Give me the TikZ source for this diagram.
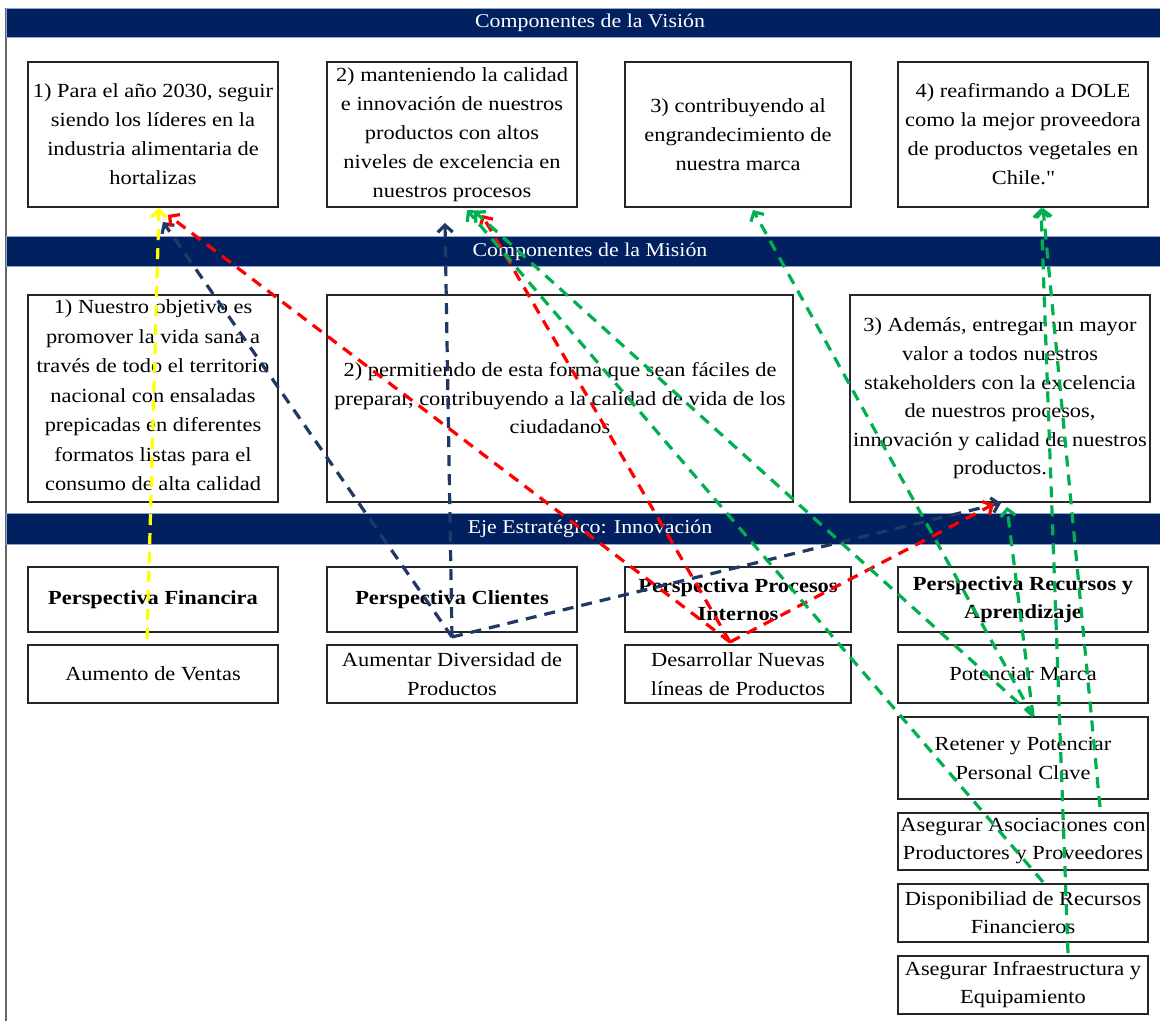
\documentclass[tikz,border=0pt]{standalone}
\usepackage{fontspec}
\setmainfont[FakeStretch=1.12]{Liberation Serif}
\usetikzlibrary{arrows.meta,calc}
\definecolor{navy}{HTML}{002060}
\definecolor{linknavy}{HTML}{1F3864}
\definecolor{linkred}{HTML}{FF0000}
\definecolor{linkgreen}{HTML}{00B050}
\definecolor{linkyellow}{HTML}{FFFF00}
\definecolor{barline}{HTML}{8FA7D0}
% straight double quote, set as a glyph so that no text mapping curls it
\newcommand{\straightquote}{\XeTeXglyph\XeTeXcharglyph"22\relax}

\begin{document}
\begin{tikzpicture}[x=1pt,y=-1pt,
  box/.style={draw=black!85, line width=2pt, fill=white, inner sep=0pt, rectangle},
  txt/.style={align=center, inner sep=0pt, font=\fontsize{20}{29}\selectfont},
  btxt/.style={align=center, inner sep=0pt, font=\fontsize{20}{28}\selectfont\bfseries},
  bar/.style={fill=navy, draw=barline, line width=1pt, inner sep=0pt, rectangle},
  bartxt/.style={text=white, inner sep=0pt, font=\fontsize{19.5}{24}\selectfont},
  link/.style={line width=3.2pt, dash pattern=on 11pt off 8pt,
    -{Straight Barb[length=7pt,width=15pt]}},
]
\useasboundingbox (0,0) rectangle (1160,1021);
\fill[white] (0,0) rectangle (1160,1021);

% frame line on the left
\draw[black!60, line width=1.5pt] (6,8) -- (6,1021);

% section bars
\node[bar, minimum width=1154pt, minimum height=29pt] (barV) at (583,22.5) {};
\node[bar, minimum width=1154pt, minimum height=30pt] (barM) at (583,251.5) {};
\node[bar, minimum width=1154pt, minimum height=31pt] (barE) at (583,528.5) {};
\node[bartxt] (barVt) at (590,22.5) {Componentes de la Visión};
\node[bartxt] (barMt) at (590,251.5) {Componentes de la Misión};
\node[bartxt] (barEt) at (590,528.5) {Eje Estratégico: Innovación};

% vision boxes
\node[box, minimum width=250pt, minimum height=145pt] (v1) at (153,134.5) {};
\node[box, minimum width=250pt, minimum height=145pt] (v2) at (452,134.5) {};
\node[box, minimum width=226pt, minimum height=145pt] (v3) at (738,134.5) {};
\node[box, minimum width=250pt, minimum height=145pt] (v4) at (1023,134.5) {};
\node[txt] (v1t) at (v1) {1) Para el año 2030, seguir\\siendo los líderes en la\\industria alimentaria de\\hortalizas};
\node[txt] (v2t) at (v2) {2) manteniendo la calidad\\e innovación de nuestros\\productos con altos\\niveles de excelencia en\\nuestros procesos};
\node[txt] (v3t) at (v3) {3) contribuyendo al\\engrandecimiento de\\nuestra marca};
\node[txt] (v4t) at (v4) {4) reafirmando a DOLE\\como la mejor proveedora\\de productos vegetales en\\Chile.\straightquote};

% mission boxes
\node[box, minimum width=250pt, minimum height=207pt] (m1) at (153,398.5) {};
\node[box, minimum width=466pt, minimum height=207pt] (m2) at (560,398.5) {};
\node[box, minimum width=300pt, minimum height=207pt] (m3) at (1000,398.5) {};
\node[txt, font=\fontsize{20}{29.5}\selectfont] (m1t) at ($(m1)+(0,-3)$) {1) Nuestro objetivo es\\promover la vida sana a\\través de todo el territorio\\nacional con ensaladas\\prepicadas en diferentes\\formatos listas para el\\consumo de alta calidad};
\node[txt, font=\fontsize{20}{28.5}\selectfont] (m2t) at (m2) {2) permitiendo de esta forma que sean fáciles de\\preparar, contribuyendo a la calidad de vida de los\\ciudadanos};
\node[txt, font=\fontsize{20}{28.6}\selectfont] (m3t) at (m3) {3) Además, entregar un mayor\\valor a todos nuestros\\stakeholders con la excelencia\\de nuestros procesos,\\innovación y calidad de nuestros\\productos.};

% perspectives
\node[box, minimum width=250pt, minimum height=65pt] (p1) at (153,599.5) {};
\node[box, minimum width=250pt, minimum height=65pt] (p2) at (452,599.5) {};
\node[box, minimum width=226pt, minimum height=65pt] (p3) at (738,599.5) {};
\node[box, minimum width=250pt, minimum height=65pt] (p4) at (1023,599.5) {};
\node[btxt] (p1t) at (p1) {Perspectiva Financira};
\node[btxt] (p2t) at (p2) {Perspectiva Clientes};
\node[btxt] (p3t) at (p3) {Perspectiva Procesos\\Internos};
\node[btxt] (p4t) at (p4) {Perspectiva Recursos y\\Aprendizaje};

% objectives
\node[box, minimum width=250pt, minimum height=58pt] (o1) at (153,674) {};
\node[box, minimum width=250pt, minimum height=58pt] (o2) at (452,674) {};
\node[box, minimum width=226pt, minimum height=58pt] (o3) at (738,674) {};
\node[box, minimum width=250pt, minimum height=58pt] (o4) at (1023,674) {};
\node[box, minimum width=250pt, minimum height=82pt] (r1) at (1023,758) {};
\node[box, minimum width=250pt, minimum height=57pt] (r2) at (1023,841.5) {};
\node[box, minimum width=250pt, minimum height=58pt] (r3) at (1023,913) {};
\node[box, minimum width=250pt, minimum height=58pt] (r4) at (1023,985) {};
\node[txt] (o1t) at (o1) {Aumento de Ventas};
\node[txt] (o2t) at (o2) {Aumentar Diversidad de\\Productos};
\node[txt] (o3t) at (o3) {Desarrollar Nuevas\\líneas de Productos};
\node[txt] (o4t) at (o4) {Potenciar Marca};
\node[txt] (r1t) at (r1) {Retener y Potenciar\\Personal Clave};
\node[txt, font=\fontsize{20}{28}\selectfont] (r2t) at (r2) {Asegurar Asociaciones con\\Productores y Proveedores};
\node[txt, font=\fontsize{20}{28}\selectfont] (r3t) at (r3) {Disponibiliad de Recursos\\Financieros};
\node[txt, font=\fontsize{20}{28}\selectfont] (r4t) at (r4) {Asegurar Infraestructura y\\Equipamiento};

% connector ends
\coordinate (yTail) at ($(p1.south)+(-6,6)$);
\coordinate (yTip)  at ($(v1.south)+(6,0)$);
\coordinate (nTail) at ($(p2.south)+(0,4)$);
\coordinate (nTipA) at ($(v1.south)+(10,14)$);
\coordinate (nTipB) at ($(v2.south)+(-7,15)$);
\coordinate (nTipC) at ($(m3.south)+(1,0)$);
\coordinate (rTail) at ($(o3.north)+(-8,-2)$);
\coordinate (rTipA) at ($(v1.south)+(15,7)$);
\coordinate (rTipB) at ($(v2.south)+(30,7)$);
\coordinate (rTipC) at ($(m3.south)+(-6,1)$);
\coordinate (gTailA) at ($(r3.north)+(20,-1)$);
\coordinate (gTailB) at ($(r1.north)+(10,0)$);
\coordinate (gTailE) at ($(r4.north)+(45,-2)$);
\coordinate (gTailF) at ($(r2.north)+(77,-5)$);
\coordinate (gTipA) at ($(v2.south)+(15,2)$);
\coordinate (gTipB) at ($(v2.south)+(22,3)$);
\coordinate (gTipC) at ($(v3.south)+(15,2)$);
\coordinate (gTipD) at ($(m3.south)+(7,4)$);
\coordinate (gTipE) at ($(v4.south)+(18,0)$);
\coordinate (gTipF) at ($(v4.south)+(20,0)$);

% connectors
\draw[link, linkyellow] (yTail) -- (yTip);
\draw[link, linknavy] (nTail) -- (nTipA);
\draw[link, linknavy] (nTail) -- (nTipB);
\draw[link, linknavy] (nTail) -- (nTipC);
\draw[link, linkred] (rTail) -- (rTipA);
\draw[link, linkred] (rTail) -- (rTipB);
\draw[link, linkred] (rTail) -- (rTipC);
\draw[link, linkgreen] (gTailA) -- (gTipA);
\draw[link, linkgreen] (gTailB) -- (gTipB);
\draw[link, linkgreen] (gTailB) -- (gTipC);
\draw[link, linkgreen] (gTailB) -- (gTipD);
\draw[link, linkgreen] (gTailE) -- (gTipE);
\draw[link, linkgreen] (gTailF) -- (gTipF);
\end{tikzpicture}
\end{document}
